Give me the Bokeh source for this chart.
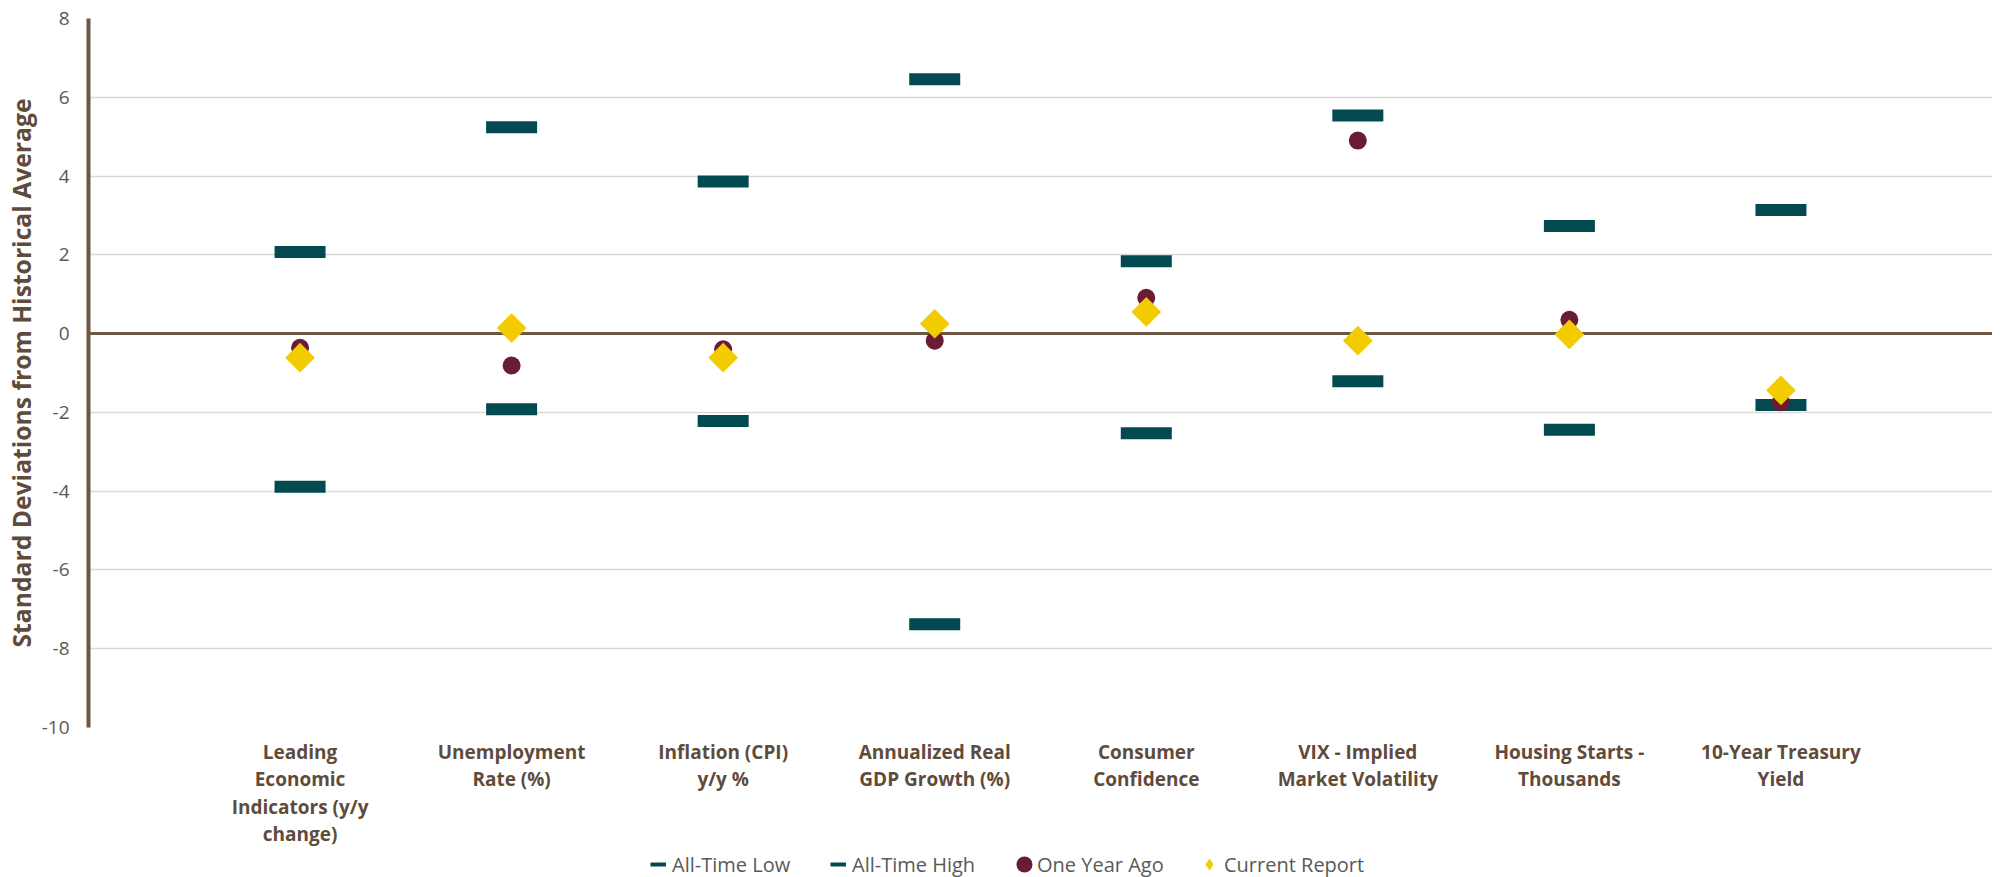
import math
from bokeh.plotting import figure
from bokeh.layouts import column
from bokeh.models import Range1d, FixedTicker, Span, Title, Legend, LegendItem, ColumnDataSource
from bokeh.embed import file_html
from bokeh.resources import INLINE

# ---------------- data ----------------
categories = [
    "Leading\nEconomic\nIndicators (y/y\nchange)",
    "Unemployment\nRate (%)",
    "Inflation (CPI)\ny/y %",
    "Annualized Real\nGDP Growth (%)",
    "Consumer\nConfidence",
    "VIX - Implied\nMarket Volatility",
    "Housing Starts -\nThousands",
    "10-Year Treasury\nYield",
]
all_time_low = [-3.89, -1.92, -2.22, -7.38, -2.53, -1.21, -2.44, -1.81]
all_time_high = [2.07, 5.24, 3.86, 6.46, 1.84, 5.54, 2.73, 3.14]
one_year_ago = [-0.36, -0.81, -0.40, -0.18, 0.91, 4.90, 0.35, -1.74]
current_report = [-0.61, 0.14, -0.61, 0.25, 0.55, -0.18, -0.02, -1.44]
y_ticks = [-10, -8, -6, -4, -2, 0, 2, 4, 6, 8]
y_label = "Standard Deviations from Historical Average"
series_names = ["All-Time Low", "All-Time High", "One Year Ago", "Current Report"]

# ---------------- styles ----------------
TEAL = "#024A50"
MAROON = "#6B1C35"
GOLD = "#F2CC00"
BROWN = "#6B5743"
LABEL_BROWN = "#5F4B3B"
GRAY_TEXT = "#595959"
GRID = "#D9D9D9"
FONT = "Open Sans"

xpos = [i + 1 for i in range(len(categories))]
src = ColumnDataSource(dict(x=xpos, low=all_time_low, high=all_time_high,
                            ago=one_year_ago, cur=current_report))

p = figure(width=1992, height=850, output_backend="svg", toolbar_location=None,
           x_range=Range1d(0, len(categories) + 1), y_range=Range1d(y_ticks[0], y_ticks[-1]),
           min_border_left=88, min_border_right=0, min_border_top=18, min_border_bottom=122)
p.outline_line_color = None
p.background_fill_color = "white"
p.border_fill_color = "white"

# axes
p.yaxis.ticker = FixedTicker(ticks=y_ticks)
p.yaxis.major_label_overrides = {t: str(t) for t in y_ticks}
p.yaxis.axis_line_color = BROWN
p.yaxis.axis_line_width = 4
p.yaxis.major_tick_line_color = None
p.yaxis.minor_tick_line_color = None
p.yaxis.major_tick_out = 0
p.yaxis.major_tick_in = 0
p.yaxis.major_label_standoff = 19
p.yaxis.major_label_text_font = FONT
p.yaxis.major_label_text_font_size = "19px"
p.yaxis.major_label_text_color = GRAY_TEXT

p.xaxis.ticker = FixedTicker(ticks=xpos)
p.xaxis.major_label_overrides = {x: c for x, c in zip(xpos, categories)}
p.xaxis.axis_line_color = None
p.xaxis.major_tick_line_color = None
p.xaxis.minor_tick_line_color = None
p.xaxis.major_tick_out = 0
p.xaxis.major_tick_in = 0
p.xaxis.major_label_standoff = 11
p.xaxis.major_label_text_font = FONT
p.xaxis.major_label_text_font_style = "bold"
p.xaxis.major_label_text_font_size = "19px"
p.xaxis.major_label_text_color = LABEL_BROWN
p.xaxis.major_label_text_line_height = 1.06

p.xgrid.grid_line_color = None
p.ygrid.ticker = FixedTicker(ticks=y_ticks)
p.ygrid.grid_line_color = GRID
p.ygrid.grid_line_width = 1.5

zero = Span(location=0, dimension="width", line_color=BROWN, line_width=3, level="underlay")
p.add_layout(zero)

# y-axis title (vertical, shifted upward like the original)
p.add_layout(Title(text=y_label, align="center", offset=110, standoff=2,
                   text_font=FONT, text_font_style="bold", text_font_size="24.7px",
                   text_color=LABEL_BROWN), "left")

# data marks
r_low = p.rect("x", "low", width=51, height=12, width_units="screen", height_units="screen",
               fill_color=TEAL, line_color=None, source=src)
r_high = p.rect("x", "high", width=51, height=12, width_units="screen", height_units="screen",
                fill_color=TEAL, line_color=None, source=src)
r_ago = p.ellipse("x", "ago", width=18, height=18, width_units="screen", height_units="screen",
                  fill_color=MAROON, line_color=None, source=src)
r_cur = p.scatter("x", "cur", marker="square", angle=math.pi / 4, size=21,
                  fill_color=GOLD, line_color=None, source=src)

# ---------------- legend strip ----------------
nan = float("nan")
pl = figure(width=1992, height=27, output_backend="svg", toolbar_location=None,
            x_axis_type=None, y_axis_type=None, x_range=Range1d(0, 1), y_range=Range1d(0, 1),
            min_border_left=0, min_border_right=0, min_border_top=0, min_border_bottom=0)
pl.outline_line_color = None
pl.grid.grid_line_color = None
pl.background_fill_color = "white"
pl.border_fill_color = "white"
lg_low = pl.line([nan], [nan], line_color=TEAL, line_width=4)
lg_high = pl.line([nan], [nan], line_color=TEAL, line_width=4)
lg_ago = pl.ellipse([nan], [nan], width=18, height=18, width_units="screen", height_units="screen",
                    fill_color=MAROON, line_color=None)
lg_cur = pl.scatter([nan], [nan], marker="diamond", size=21, fill_color=GOLD, line_color=None)

common = dict(orientation="horizontal", label_height=20, padding=0, margin=0,
              border_line_color=None, background_fill_alpha=0,
              label_text_font=FONT, label_text_font_size="20px", label_text_color=GRAY_TEXT,
              label_text_line_height=1.0)
legend_specs = [
    (series_names[0], lg_low, (562, -2), 16, 30, 6),
    (series_names[1], lg_high, (742, -2), 16, 30, 6),
    (series_names[2], lg_ago, (926, -2), 20, 30, 3),
    (series_names[3], lg_cur, (1106, -2), 30, 30, 0),
]
for name, rend, loc, gw, gh, st in legend_specs:
    pl.add_layout(Legend(items=[LegendItem(label=name, renderers=[rend])], location=loc,
                         glyph_width=gw, glyph_height=gh, label_standoff=st, **common), "center")

layout = column(p, pl, spacing=0)
open("out.html", "w").write(file_html(layout, INLINE))
